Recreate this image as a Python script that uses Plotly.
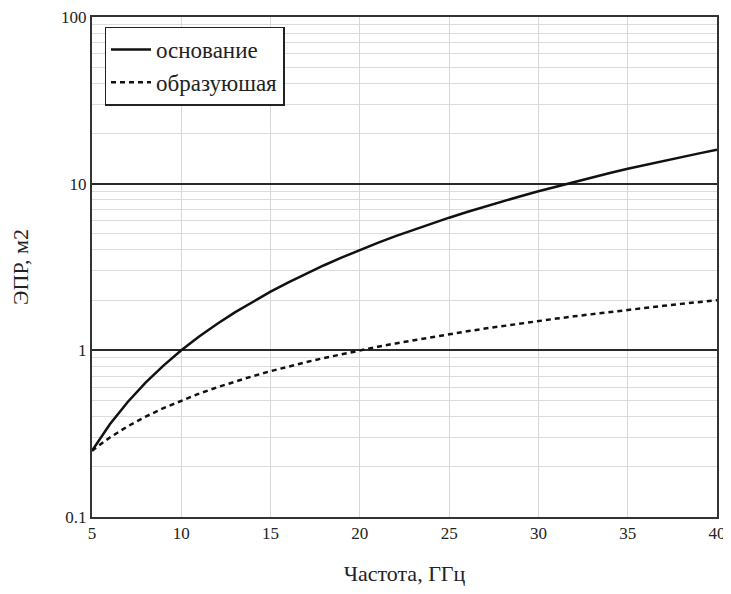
import plotly.graph_objects as go

freq = [5, 6, 7, 8, 9, 10, 11, 12, 13, 14, 15, 16, 17, 18, 19, 20, 21, 22, 23, 24,
        25, 26, 27, 28, 29, 30, 31, 32, 33, 34, 35, 36, 37, 38, 39, 40]
osnovanie = [0.25, 0.36, 0.49, 0.64, 0.81, 1.0, 1.21, 1.44, 1.69, 1.96, 2.25, 2.56,
             2.89, 3.24, 3.61, 4.0, 4.41, 4.84, 5.29, 5.76, 6.25, 6.76, 7.29, 7.84,
             8.41, 9.0, 9.61, 10.2, 10.9, 11.6, 12.3, 13.0, 13.7, 14.4, 15.2, 16.0]
obrazuyushaya = [0.25, 0.30, 0.35, 0.40, 0.45, 0.50, 0.55, 0.60, 0.65, 0.70, 0.75, 0.80,
                 0.85, 0.90, 0.95, 1.00, 1.05, 1.10, 1.15, 1.20, 1.25, 1.30, 1.35, 1.40,
                 1.45, 1.50, 1.55, 1.60, 1.65, 1.70, 1.75, 1.80, 1.85, 1.90, 1.95, 2.00]
x_ticks = [5, 10, 15, 20, 25, 30, 35, 40]
y_ticks = [0.1, 1, 10, 100]
y_tick_labels = ["0.1", "1", "10", "100"]

FONT = "'Liberation Serif', 'Times New Roman', 'DejaVu Serif', serif"

fig = go.Figure()
fig.add_trace(go.Scatter(x=freq, y=osnovanie, mode="lines", name="основание",
                         line=dict(color="#111111", width=2.5)))
fig.add_trace(go.Scatter(x=freq, y=obrazuyushaya, mode="lines", name="образуюшая",
                         line=dict(color="#111111", width=2.5, dash="5px,4px")))

fig.update_layout(
    width=723, height=578,
    margin=dict(l=84, r=14, t=9, b=69),
    paper_bgcolor="#ffffff",
    plot_bgcolor="#ffffff",
    font=dict(family=FONT, size=16, color="#222222"),
    showlegend=True,
    legend=dict(x=0.02, y=0.981, xanchor="left", yanchor="top",
                bordercolor="#222222", borderwidth=1.5, bgcolor="#ffffff",
                font=dict(family=FONT, size=23, color="#222222"),
                tracegroupgap=0, itemwidth=40),
)
fig.update_xaxes(
    range=[5, 40], tickvals=x_ticks, ticktext=[str(v) for v in x_ticks],
    showgrid=True, gridcolor="#d8d8d8", gridwidth=1,
    showline=True, linecolor="#333333", linewidth=2, mirror=True,
    ticks="", zeroline=False, automargin=False, ticklabeloverflow="allow",
    title=dict(text="Частота, ГГц", font=dict(family=FONT, size=22), standoff=26),
    tickfont=dict(family=FONT, size=17),
)
fig.update_yaxes(
    type="log", range=[-1, 2], tickvals=y_ticks, ticktext=y_tick_labels,
    showgrid=True, gridcolor="#2a2a2a", gridwidth=1.5,
    minor=dict(dtick="D1", showgrid=True, gridcolor="#dcdcdc", gridwidth=1, ticks=""),
    showline=True, linecolor="#333333", linewidth=2, mirror=True,
    ticks="", zeroline=False, automargin=False, ticklabeloverflow="allow",
    title=dict(text="ЭПР, м2", font=dict(family=FONT, size=22), standoff=29),
    tickfont=dict(family=FONT, size=17),
)

fig.write_html("out.html")
